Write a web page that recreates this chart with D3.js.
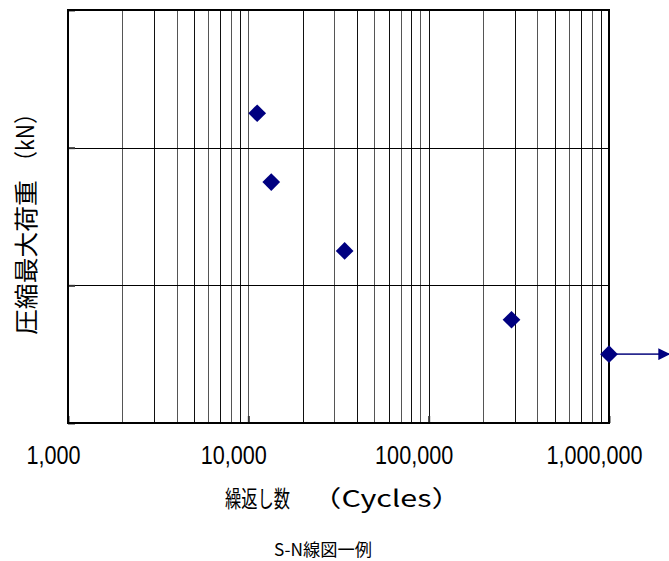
<!DOCTYPE html>
<html>
<head>
<meta charset="utf-8">
<title>S-N線図一例</title>
<script src="https://d3js.org/d3.v7.min.js"></script>
<style>
  body { margin: 0; background: #fff; overflow: hidden; }
  svg { display: block; }
  text { font-family: "Noto Sans CJK JP", "Liberation Sans", sans-serif; fill: #000; }
</style>
</head>
<body>
<svg width="669" height="561"></svg>
<script>

// data
const cycles  = [11200, 13400, 34200, 288000, 1000000];
const loads   = [22.5, 17.5, 12.5, 7.5, 5.0];
const runout  = [false, false, false, false, true];
const xTickValues = [1000, 10000, 100000, 1000000];
const yGridValues = [0, 10, 20, 30];
const xTitleMain = '繰返し数';
const xTitleUnit = '（Cycles）';
const yTitleMain = '圧縮最大荷重';
const yTitleUnit = '（kN）';
const caption = 'S-N線図一例';

const points = cycles.map((c, i) => ({ c, load: loads[i], runout: runout[i] }));

const svg = d3.select('svg');
const margin = { top: 10, right: 60, bottom: 138, left: 68 };
const width = +svg.attr('width');
const height = +svg.attr('height');
const innerWidth = width - margin.left - margin.right;
const innerHeight = height - margin.top - margin.bottom;

const x = d3.scaleLog()
    .domain([1000, 1000000])
    .range([0, innerWidth]);

const y = d3.scaleLinear()
    .domain([0, 30])
    .range([innerHeight, 0]);

const g = svg.append('g')
    .attr('transform', `translate(${margin.left},${margin.top})`);

// vertical grid: every log tick
g.append('g')
    .attr('class', 'x-grid')
    .call(d3.axisBottom(x).ticks(10).tickSize(innerHeight).tickFormat(''))
    .call(s => s.select('.domain').remove())
    .call(s => s.selectAll('text').remove())
    .selectAll('line')
        .attr('stroke', (d, i) => i % 2 ? '#555' : '#111')
        .attr('shape-rendering', 'crispEdges');

// horizontal grid
g.append('g')
    .attr('class', 'y-grid')
    .call(d3.axisRight(y).tickValues(yGridValues).tickSize(innerWidth).tickFormat(''))
    .call(s => s.select('.domain').remove())
    .call(s => s.selectAll('text').remove())
    .selectAll('line')
        .attr('stroke', '#000')
        .attr('shape-rendering', 'crispEdges');

// small inside ticks on the axes
g.append('g')
    .attr('transform', `translate(0,${innerHeight})`)
    .call(d3.axisTop(x).tickValues(xTickValues).tickSize(7).tickFormat(''))
    .call(s => s.select('.domain').remove())
    .call(s => s.selectAll('text').remove())
    .selectAll('line').attr('stroke-width', 2).attr('stroke', '#333');

g.append('g')
    .call(d3.axisRight(y).tickValues(yGridValues).tickSize(7).tickFormat(''))
    .call(s => s.select('.domain').remove())
    .call(s => s.selectAll('text').remove())
    .selectAll('line').attr('stroke-width', 2).attr('stroke', '#333');

// plot frame
g.append('rect')
    .attr('width', innerWidth)
    .attr('height', innerHeight)
    .attr('fill', 'none')
    .attr('stroke', '#000')
    .attr('stroke-width', 1.3)
    .attr('shape-rendering', 'crispEdges');

// x tick labels (a bit narrower than the font, like the original)
const labelSquash = 0.865;
const xAxis = d3.axisBottom(x)
    .tickValues(xTickValues)
    .tickSize(0)
    .tickPadding(23)
    .tickFormat(d3.format(','));

g.append('g')
    .attr('class', 'x-axis')
    .attr('transform', `translate(0,${innerHeight})`)
    .call(xAxis)
    .call(s => s.select('.domain').remove())
    .selectAll('text')
        .attr('dx', -15 / labelSquash)
        .attr('transform', `scale(${labelSquash},1)`)
        .style('font-size', '25px')
        .style('font-family', '"Liberation Sans", Arial, sans-serif');

// run-out arrow
const defs = svg.append('defs');
defs.append('marker')
    .attr('id', 'arrow')
    .attr('viewBox', '0 0 10 10')
    .attr('refX', 9)
    .attr('refY', 5)
    .attr('markerWidth', 7)
    .attr('markerHeight', 7)
    .attr('markerUnits', 'strokeWidth')
    .attr('orient', 'auto')
  .append('path')
    .attr('d', 'M0,0 L10,5 L0,10 Z')
    .attr('fill', '#000080');

g.selectAll('.runout')
    .data(points.filter(d => d.runout))
    .enter().append('line')
        .attr('class', 'runout')
        .attr('x1', d => x(d.c))
        .attr('x2', d => x(d.c) + 60)
        .attr('y1', d => y(d.load))
        .attr('y2', d => y(d.load))
        .attr('stroke', '#2a2a8f')
        .attr('stroke-width', 1.7)
        .attr('marker-end', 'url(#arrow)');

// diamonds
g.selectAll('.pt')
    .data(points)
    .enter().append('path')
        .attr('class', 'pt')
        .attr('d', d3.symbol().type(d3.symbolDiamond2).size(200))
        .attr('transform', d => `translate(${x(d.c)},${y(d.load)})`)
        .attr('fill', '#000080');

// titles: text stretched to the widths seen in the original
const fitText = (str, size, anchor, pre, len) => {
    const t = svg.append('text')
        .attr('text-anchor', anchor)
        .attr('dominant-baseline', 'central')
        .style('font-size', size + 'px')
        .text(str);
    const w = t.node().getComputedTextLength();
    t.attr('transform', `${pre} scale(${len / w},1)`);
    return t;
};

fitText(xTitleMain, 23, 'start', 'translate(225,497)', 65);
fitText(xTitleUnit, 23, 'start', 'translate(311,497)', 151);

fitText(yTitleMain, 24, 'start', 'translate(24,335) rotate(-90)', 155);
fitText(yTitleUnit, 24, 'start', 'translate(24,172) rotate(-90)', 69);

fitText(caption, 17, 'middle', 'translate(323,549)', 98);

</script>
</body>
</html>
